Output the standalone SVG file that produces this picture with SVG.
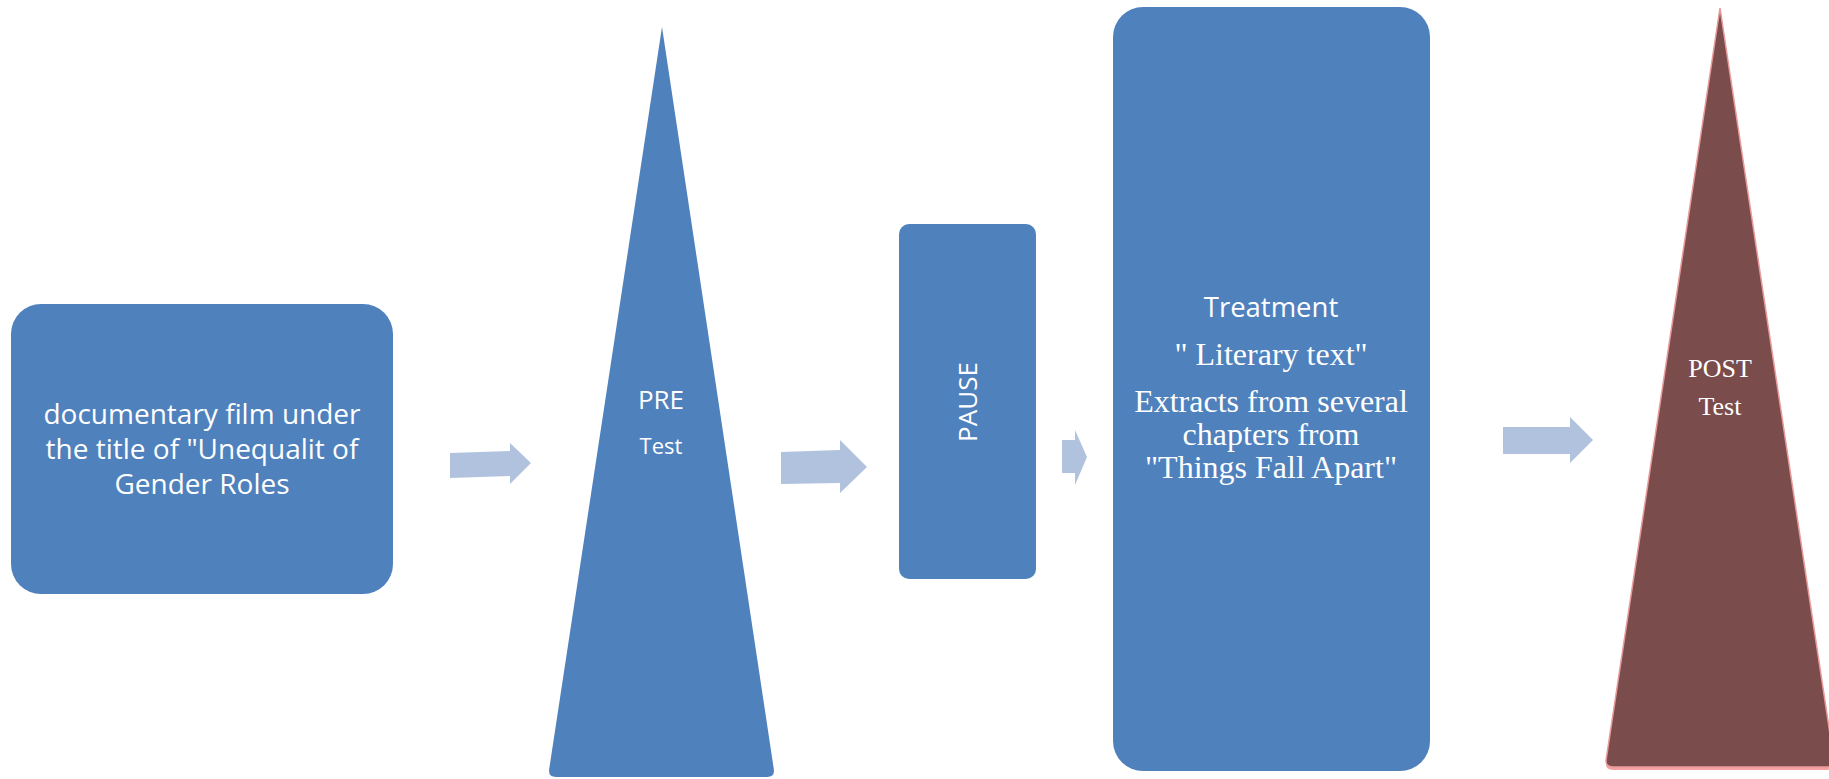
<svg xmlns="http://www.w3.org/2000/svg" width="1829" height="779" viewBox="0 0 1829 779">
  <style>
    .node { fill: #4F81BD; }
    .arrow { fill: #B0C2DE; }
    .sans { font-family: "Open Sans", "Liberation Sans", sans-serif; fill: #FFFFFF; text-anchor: middle; }
    .serif { font-family: "Liberation Serif", "Times New Roman", serif; fill: #FFFFFF; text-anchor: middle; }
  </style>
  <rect width="1829" height="779" fill="#FFFFFF"/>

  <!-- block arrows between stages -->
  <g id="connectors">
    <polygon class="arrow" points="450,453 510,451 510,443 531,463 510,484 510,476 450,478"/>
    <polygon class="arrow" points="781,452 840,450 840,440 867,467 840,493 840,483 781,484"/>
    <polygon class="arrow" points="1062,440 1075,440 1075,430 1087,457 1075,485 1075,473 1062,473"/>
    <polygon class="arrow" points="1503,427 1570,427 1570,417 1593,440 1570,463 1570,454 1503,454"/>
  </g>

  <g id="film">
    <rect class="node" x="11" y="304" width="382" height="290" rx="30" ry="30"/>
    <text class="sans" font-size="28" x="202" y="424">documentary film under</text>
    <text class="sans" font-size="28" x="202" y="459">the title of "Unequalit of</text>
    <text class="sans" font-size="28" x="202" y="494">Gender Roles</text>
  </g>

  <g id="pre-test">
    <path class="node" d="M662,27 L549.2,769.1 Q548,777 556,777 L767,777 Q775,777 773.8,769.1 Z"/>
    <text class="sans" font-size="26" x="661" y="409">PRE</text>
    <text class="sans" font-size="22" x="661" y="454">Test</text>
  </g>

  <g id="pause">
    <rect class="node" x="899" y="224" width="137" height="355" rx="10" ry="10"/>
    <text class="sans" font-size="26" transform="translate(977,402) rotate(-90)" x="0" y="0">PAUSE</text>
  </g>

  <g id="treatment">
    <rect class="node" x="1113" y="7" width="317" height="764" rx="30" ry="30"/>
    <text class="sans" font-size="27.5" x="1271" y="317">Treatment</text>
    <text class="serif" font-size="32" x="1271" y="365">" Literary text"</text>
    <text class="serif" font-size="32" x="1271" y="412">Extracts from several</text>
    <text class="serif" font-size="32" x="1271" y="445">chapters from</text>
    <text class="serif" font-size="32" x="1271" y="478">"Things Fall Apart"</text>
  </g>

  <g id="post-test">
    <path fill="#F4A3A3" d="M1720,11 L1606.2,762.1 Q1605,770 1613,770 L1827,770 Q1835,770 1833.8,762.1 Z"/>
    <path fill="#7A4C4B" stroke="#E99A9A" stroke-width="1.5" d="M1720,8 L1606.2,759.1 Q1605,767 1613,767 L1827,767 Q1835,767 1833.8,759.1 Z"/>
    <text class="serif" font-size="26" x="1720" y="377">POST</text>
    <text class="serif" font-size="26" x="1720" y="415">Test</text>
  </g>
</svg>
